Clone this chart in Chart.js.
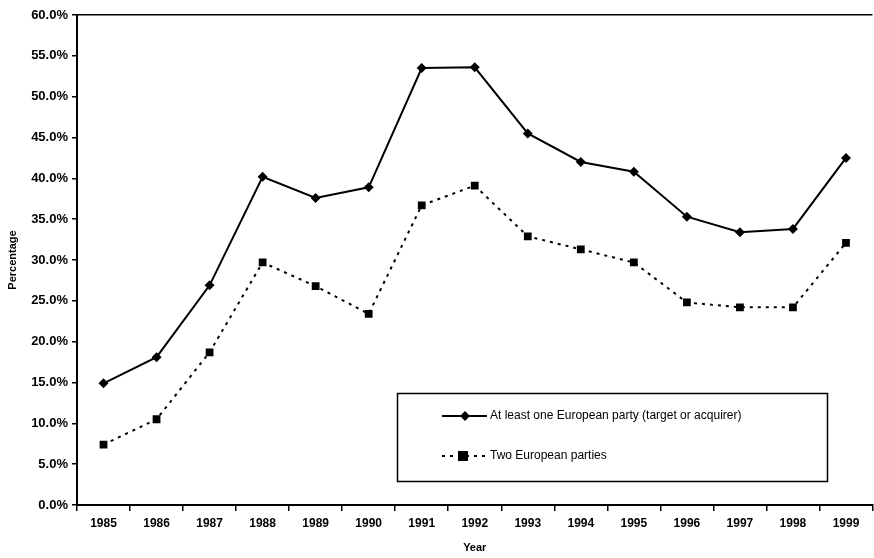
<!DOCTYPE html>
<html>
<head>
<meta charset="utf-8">
<script src="https://cdn.jsdelivr.net/npm/chart.js@4/dist/chart.umd.min.js"></script>
<style>
html,body{margin:0;padding:0;background:#fff;overflow:hidden;}
#wrap{width:874px;height:558px;position:relative;overflow:hidden;}
#c{display:block;}
</style>
</head>
<body>
<div id="wrap"><canvas id="c" width="878" height="558"></canvas></div>
<script>
const years = ['1985','1986','1987','1988','1989','1990','1991','1992','1993','1994','1995','1996','1997','1998','1999'];
const atLeastOne = [14.9, 18.1, 26.9, 40.2, 37.6, 38.9, 53.5, 53.6, 45.5, 42.0, 40.8, 35.3, 33.4, 33.8, 42.5];
const twoEuropean = [7.4, 10.5, 18.7, 29.7, 26.8, 23.4, 36.7, 39.1, 32.9, 31.3, 29.7, 24.8, 24.2, 24.2, 32.1];
const seriesNames = ['At least one European party (target or acquirer)', 'Two European parties'];
const yTicks = [0, 5, 10, 15, 20, 25, 30, 35, 40, 45, 50, 55, 60];

const FONT = '"Liberation Sans", Arial, sans-serif';

const legendBox = {
  id: 'legendBox',
  afterDraw(chart) {
    const ctx = chart.ctx;
    ctx.save();
    ctx.strokeStyle = '#000';
    ctx.lineWidth = 1.5;
    ctx.strokeRect(397.5, 393.5, 430, 88);
    ctx.lineWidth = 2;
    ctx.setLineDash([]);
    ctx.beginPath(); ctx.moveTo(442, 416); ctx.lineTo(487, 416); ctx.stroke();
    ctx.fillStyle = '#000';
    ctx.beginPath();
    ctx.moveTo(465, 411); ctx.lineTo(470, 416); ctx.lineTo(465, 421); ctx.lineTo(460, 416); ctx.closePath(); ctx.fill();
    ctx.setLineDash([3, 5]);
    ctx.beginPath(); ctx.moveTo(442, 456); ctx.lineTo(487, 456); ctx.stroke();
    ctx.setLineDash([]);
    ctx.fillRect(458, 451, 10, 10);
    ctx.font = '12px ' + FONT;
    ctx.textBaseline = 'middle';
    ctx.textAlign = 'left';
    ctx.fillText(seriesNames[0], 490, 416);
    ctx.fillText(seriesNames[1], 490, 456);
    ctx.restore();
  }
};

new Chart(document.getElementById('c'), {
  type: 'line',
  data: {
    labels: years,
    datasets: [
      {
        label: seriesNames[0],
        data: atLeastOne,
        borderColor: '#000',
        backgroundColor: '#000',
        borderWidth: 2,
        pointStyle: 'rectRot',
        pointRadius: 5,
        pointBorderWidth: 0,
        tension: 0,
        fill: false
      },
      {
        label: seriesNames[1],
        data: twoEuropean,
        borderColor: '#000',
        backgroundColor: '#000',
        borderWidth: 2,
        borderDash: [3, 5],
        pointStyle: 'rect',
        pointRadius: 5.5,
        pointBorderWidth: 0,
        tension: 0,
        fill: false
      }
    ]
  },
  options: {
    responsive: false,
    animation: false,
    devicePixelRatio: 1,
    layout: { padding: { left: 0, top: 15, right: 0, bottom: 0 } },
    plugins: { legend: { display: false }, tooltip: { enabled: false } },
    scales: {
      x: {
        offset: true,
        grid: { offset: true, drawOnChartArea: false, tickLength: 6, color: '#000', lineWidth: 1.5 },
        border: { display: true, color: '#000', width: 2 },
        ticks: { color: '#000', font: { family: FONT, size: 12, weight: 'bold' }, padding: 5, maxRotation: 0, autoSkip: false },
        title: { display: true, text: 'Year', color: '#000', font: { family: FONT, size: 11, weight: 'bold' }, padding: { top: 2, bottom: 3 } },
        afterFit(scale) { scale.height = 53; }
      },
      y: {
        min: 0,
        max: 60,
        afterBuildTicks(scale) { scale.ticks = yTicks.map(v => ({ value: v })); },
        grid: {
          drawOnChartArea: true,
          color: (c) => (c.tick && c.tick.value === 60 ? '#000' : 'rgba(0,0,0,0)'),
          tickColor: '#000',
          lineWidth: 1.5,
          tickLength: 5
        },
        border: { display: true, color: '#000', width: 2 },
        ticks: {
          color: '#000',
          font: { family: FONT, size: 13, weight: 'bold' },
          padding: 4,
          callback: (v) => Number(v).toFixed(1) + '%'
        },
        title: { display: true, text: 'Percentage', color: '#000', font: { family: FONT, size: 11, weight: 'bold' }, padding: { top: 6, bottom: 0 } },
        afterFit(scale) { scale.width = 77; }
      }
    }
  },
  plugins: [legendBox]
});
</script>
</body>
</html>
